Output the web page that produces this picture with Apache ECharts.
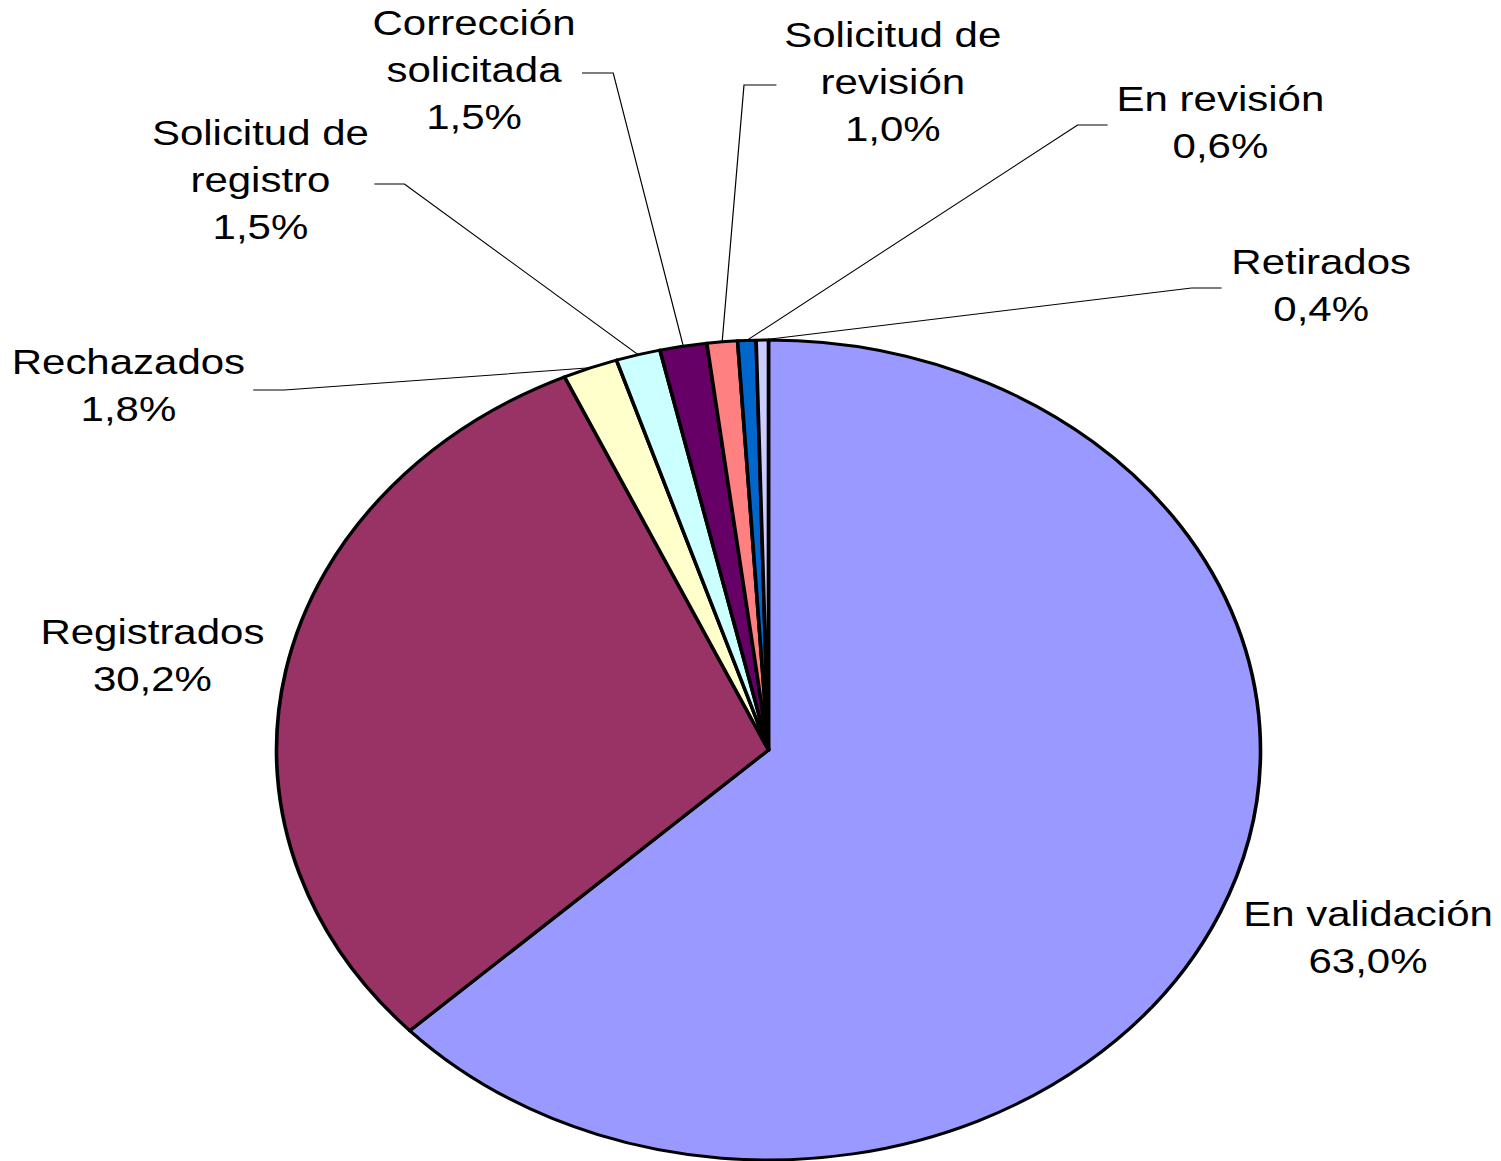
<!DOCTYPE html>
<html>
<head>
<meta charset="utf-8">
<script src="https://cdn.jsdelivr.net/npm/echarts@6/dist/echarts.min.js"></script>
<style>
html, body { margin: 0; padding: 0; background: #fff; overflow: hidden; }
/* the original picture is a round pie stretched sideways, text included */
#chart { width: 1251px; height: 1161px; transform: scaleX(1.2); transform-origin: 0 0; }
</style>
</head>
<body>
<div id="chart"></div>
<script>
var names = ['En validación', 'Registrados', 'Rechazados', 'Solicitud de\nregistro',
	'Corrección\nsolicitada', 'Solicitud de\nrevisión', 'En revisión', 'Retirados'];
var values = [63.0, 30.2, 1.8, 1.46, 1.54, 1.0, 0.6, 0.4];
var colors = ['#9999FF', '#993366', '#FFFFCC', '#CCFFFF', '#660066', '#FF8080', '#0066CC', '#CCCCFF'];

// label centres and leader elbows, in unstretched chart px
var labelPos = [[1140, 937], [127, 655], [107, 385], [217, 180], [395, 70], [744, 82], [1017, 122], [1101, 285]];
var elbows = [null, null,
	[[237, 390], [211, 390]],
	[[337, 184], [312, 184]],
	[[511, 73], [485, 73]],
	[[620, 85], [647, 85]],
	[[898, 125], [923, 125]],
	[[993, 288], [1018, 288]]];

var chart = echarts.init(document.getElementById('chart'), null, {renderer: 'svg'});

var data = names.map(function (n, i) {
	var d = {name: n, value: values[i], itemStyle: {color: colors[i]}};
	if (!elbows[i]) d.labelLine = {show: false};
	return d;
});

chart.setOption({
	animation: false,
	backgroundColor: '#fff',
	series: [{
		type: 'pie',
		center: [640.4, 750],
		radius: 410,
		startAngle: 90,
		clockwise: true,
		avoidLabelOverlap: false,
		itemStyle: {
			borderColor: '#000',
			borderWidth: 3
		},
		label: {
			show: true,
			position: 'outside',
			color: '#000',
			fontFamily: 'Liberation Sans',
			fontSize: 35,
			lineHeight: 47,
			align: 'center',
			width: 400,
			formatter: function (p) {
				return p.name + '\n' + p.value.toFixed(1).replace('.', ',') + '%';
			}
		},
		labelLine: {
			show: true,
			length: 15,
			length2: 15,
			lineStyle: {color: '#000', width: 1}
		},
		labelLayout: function (p) {
			var i = p.dataIndex;
			var res = {x: labelPos[i][0], y: labelPos[i][1], align: 'center', verticalAlign: 'middle'};
			if (elbows[i] && p.labelLinePoints) {
				res.labelLinePoints = [p.labelLinePoints[0], elbows[i][0], elbows[i][1]];
			}
			return res;
		},
		emphasis: {disabled: true},
		data: data
	}]
});
</script>
</body>
</html>
